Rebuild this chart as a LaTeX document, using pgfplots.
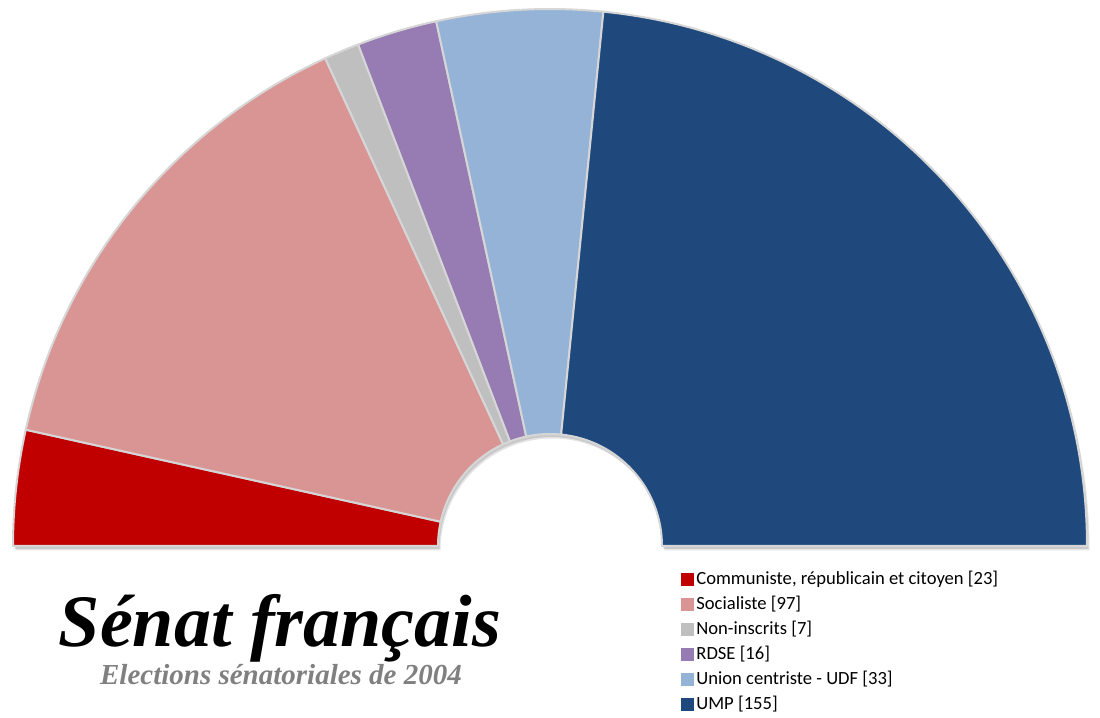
\documentclass[border=0pt]{standalone}
\usepackage{fontspec}
\setmainfont{Carlito}
\newfontfamily\titlefont{Liberation Serif}
\usepackage{pgfplots}
\usepackage{pgfplotstable}
\pgfplotsset{compat=1.18}
\definecolor{cPCF}{HTML}{C00000}
\definecolor{cPS}{HTML}{D99594}
\definecolor{cNI}{HTML}{BFBFBF}
\definecolor{cRDSE}{HTML}{967CB2}
\definecolor{cUDF}{HTML}{95B3D7}
\definecolor{cUMP}{HTML}{1F497D}
\definecolor{edgegray}{HTML}{D6D6D6}
\definecolor{subgray}{HTML}{808080}

\pgfplotstableread{
id seats
0 23
1 97
2 7
3 16
4 33
5 155
}\seatstable

\def\rin{56pt}
\def\rout{268.5pt}

\newcommand\seatwedge[3]{%
 \fill[#3, draw=edgegray, line width=1pt, line join=round]
   ([shift={(\csname ang#1\endcsname:\rin)}]axis cs:550,172)
   arc[start angle=\csname ang#1\endcsname, end angle=\csname ang#2\endcsname, radius=\rin]
   -- ([shift={(\csname ang#2\endcsname:\rout)}]axis cs:550,172)
   arc[start angle=\csname ang#2\endcsname, end angle=\csname ang#1\endcsname, radius=\rout]
   -- cycle;}

\begin{document}
\begin{tikzpicture}
\pgfmathsetmacro\cum{0}
\expandafter\xdef\csname ang0\endcsname{180}
\pgfplotsforeachungrouped \i in {0,...,5}{%
  \pgfplotstablegetelem{\i}{seats}\of\seatstable
  \pgfmathsetmacro\cum{\cum+\pgfplotsretval}%
  \pgfmathtruncatemacro\j{\i+1}%
  \pgfmathsetmacro\tmp{180-\cum/331*180}%
  \expandafter\xdef\csname ang\j\endcsname{\tmp}%
}
\begin{axis}[
  name=ax,
  x=0.5pt, y=0.5pt,
  xmin=0, xmax=1100, ymin=0, ymax=718,
  hide axis, clip=false,
  legend cell align=left,
  legend image code/.code={\fill[#1] (0pt,-2.8pt) rectangle (5.6pt,2.8pt);},
  legend style={at={(axis cs:675,155)}, anchor=north west, draw=none, fill=none,
    font=\fontsize{9.3}{11}\selectfont, row sep=0.5pt,
    nodes={text height=7pt, text depth=2pt, inner sep=1.5pt}},
]
% shadow
\fill[black, opacity=0.12]
   ([shift={(180:\rout)}]axis cs:551.5,169) arc[start angle=180, end angle=0, radius=\rout]
   -- ([shift={(0:\rin)}]axis cs:551.5,169) arc[start angle=0, end angle=180, radius=\rin] -- cycle;
\fill[black, opacity=0.10]
   ([shift={(180:\rout)}]axis cs:552.5,167.5) arc[start angle=180, end angle=0, radius=\rout]
   -- ([shift={(0:\rin)}]axis cs:552.5,167.5) arc[start angle=0, end angle=180, radius=\rin] -- cycle;
\seatwedge{0}{1}{cPCF}
\seatwedge{1}{2}{cPS}
\seatwedge{2}{3}{cNI}
\seatwedge{3}{4}{cRDSE}
\seatwedge{4}{5}{cUDF}
\seatwedge{5}{6}{cUMP}
\addlegendimage{cPCF}\addlegendentry{Communiste, républicain et citoyen [23]}
\addlegendimage{cPS}\addlegendentry{Socialiste [97]}
\addlegendimage{cNI}\addlegendentry{Non-inscrits [7]}
\addlegendimage{cRDSE}\addlegendentry{RDSE [16]}
\addlegendimage{cUDF}\addlegendentry{Union centriste - UDF [33]}
\addlegendimage{cUMP}\addlegendentry{UMP [155]}
\node[font=\titlefont\bfseries\itshape\fontsize{37}{40}\selectfont, anchor=base] at (axis cs:280,71) {Sénat français};
\node[font=\titlefont\bfseries\itshape\fontsize{14.5}{16}\selectfont, text=subgray, anchor=base] at (axis cs:281,33) {Elections sénatoriales de 2004};
\end{axis}
\pgfresetboundingbox
\path (ax.south west) rectangle (ax.north east);
\end{tikzpicture}
\end{document}
